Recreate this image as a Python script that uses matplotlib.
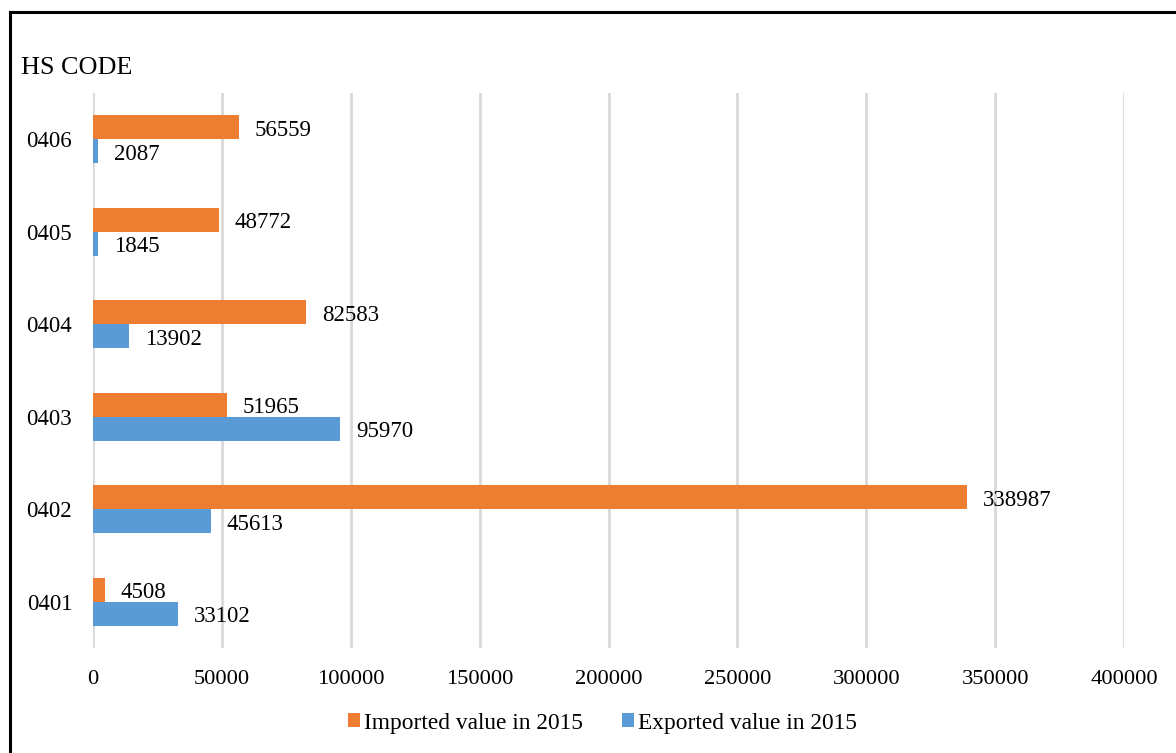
import matplotlib
matplotlib.use("Agg")
import matplotlib.pyplot as plt
from matplotlib.lines import Line2D
import numpy as np

# HS codes (bottom to top) and trade values for 2015
hs_codes = ["0401", "0402", "0403", "0404", "0405", "0406"]
imported_2015 = [4508, 338987, 51965, 82583, 48772, 56559]
exported_2015 = [33102, 45613, 95970, 13902, 1845, 2087]
x_ticks = [0, 50000, 100000, 150000, 200000, 250000, 300000, 350000, 400000]

plt.rcParams["font.family"] = ["Liberation Serif", "DejaVu Serif"]

ORANGE = "#ED7D31"
BLUE = "#5B9BD5"
GRID = "#D9D9D9"

fig = plt.figure(figsize=(11.76, 7.53), dpi=100)
ax = fig.add_axes([93 / 1176, 1 - 648 / 753, (1124 - 93) / 1176, (648 - 93) / 753])

y = np.arange(len(hs_codes))
h = 0.26
bars_imp = ax.barh(y + h / 2, imported_2015, height=h, color=ORANGE,
                   label="Imported value in 2015", zorder=3)
bars_exp = ax.barh(y - h / 2, exported_2015, height=h, color=BLUE,
                   label="Exported value in 2015", zorder=3)

for bars, vals in ((bars_imp, imported_2015), (bars_exp, exported_2015)):
    for b, v in zip(bars, vals):
        ax.annotate(f"{v}", xy=(v, b.get_y() + b.get_height() / 2),
                    xytext=(11.5, -2.2), textcoords="offset points",
                    ha="left", va="center", fontsize=16.5, color="black",
                    zorder=4)

ax.set_xlim(0, 400000)
ax.set_ylim(-0.5, len(hs_codes) - 0.5)
ax.set_xticks(x_ticks)
ax.set_xticklabels([str(t) for t in x_ticks], fontsize=16.2)
ax.set_yticks(y)
ax.set_yticklabels(hs_codes, fontsize=16.5)
ax.tick_params(axis="both", length=0)
ax.tick_params(axis="x", pad=16)
ax.tick_params(axis="y", pad=15)
ax.xaxis.grid(True, color=GRID, linewidth=2, zorder=0)
ax.set_axisbelow(True)
for s in ax.spines.values():
    s.set_visible(False)

fig.text(21 / 1176, 1 - 67.5 / 753, "HS CODE", fontsize=18.8, ha="left",
         va="center")

leg = fig.legend(handles=[bars_imp, bars_exp], loc="center",
                 bbox_to_anchor=(602.5 / 1176, 1 - 723 / 753), ncol=2,
                 frameon=False, fontsize=16.8, handlelength=0.52,
                 handleheight=0.52, handletextpad=0.17, columnspacing=1.7,
                 borderaxespad=0, borderpad=0)

# outer frame on the left and top edges
fig.add_artist(Line2D([9.5 / 1176, 9.5 / 1176], [0, 1 - 12 / 753],
                      transform=fig.transFigure, color="black", linewidth=2.2))
fig.add_artist(Line2D([9.5 / 1176, 1], [1 - 12 / 753, 1 - 12 / 753],
                      transform=fig.transFigure, color="black", linewidth=2.2))

fig.savefig("out.png", dpi=100, facecolor="white")
